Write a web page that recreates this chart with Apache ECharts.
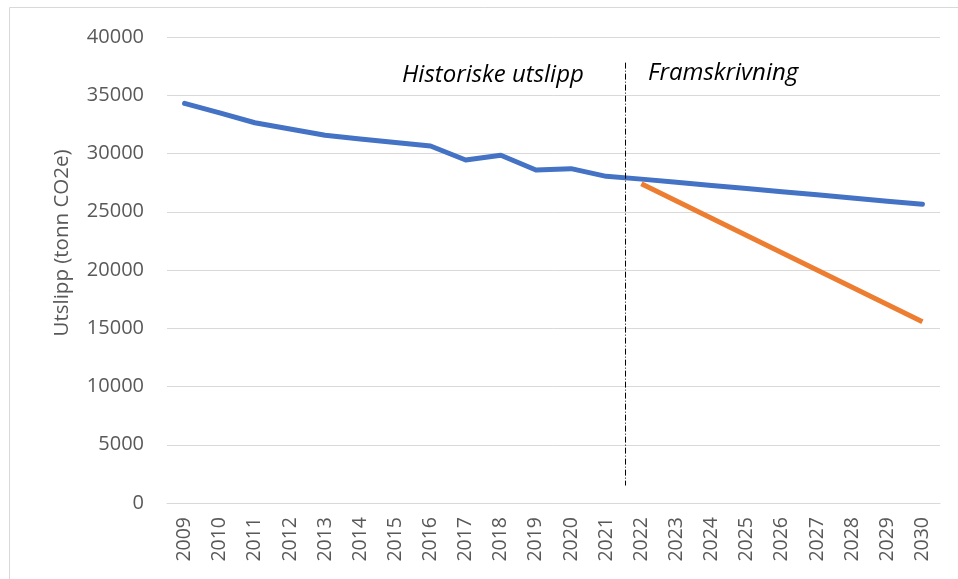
<!DOCTYPE html>
<html>
<head>
<meta charset="utf-8">
<script src="https://cdn.jsdelivr.net/npm/echarts@6/dist/echarts.min.js"></script>
<style>html,body{margin:0;padding:0;background:#fff;}#c{width:958px;height:579px;}</style>
</head>
<body>
<div id="c"></div>
<script>
const years = ['2009','2010','2011','2012','2013','2014','2015','2016','2017','2018','2019','2020','2021','2022','2023','2024','2025','2026','2027','2028','2029','2030'];
const historisk = [34300,33480,32640,32100,31560,31240,30940,30640,29440,29850,28580,28700,28040,27800,27530,27260,26990,26720,26450,26180,25910,25640];
const framskrivning = [null,null,null,null,null,null,null,null,null,null,null,null,null,27400,25920,24440,22960,21480,20000,18520,17040,15560];
const dividerX = [13.05, 13.05];
const dividerY = [37800, 1500];
const yTicks = [0,5000,10000,15000,20000,25000,30000,35000,40000];

const chart = echarts.init(document.getElementById('c'));
const font = '"Open Sans", "Liberation Sans", sans-serif';
chart.setOption({
  animation: false,
  backgroundColor: '#fff',
  grid: {left: 167, right: 18, top: 37, bottom: 76},
  xAxis: [{
    type: 'category', data: years, boundaryGap: true,
    axisLine: {show: true, lineStyle: {color: '#d9d9d9', width: 1}},
    axisTick: {show: false},
    axisLabel: {rotate: 90, fontSize: 19.5, color: '#595959', fontFamily: font, margin: 14, interval: 0}
  }, {
    type: 'value', min: 0, max: years.length, show: false
  }],
  yAxis: {
    type: 'value', min: yTicks[0], max: yTicks[yTicks.length-1], interval: 5000,
    axisLine: {show: false}, axisTick: {show: false},
    splitLine: {lineStyle: {color: '#d9d9d9', width: 1}},
    axisLabel: {fontSize: 20, color: '#595959', fontFamily: font, margin: 23, formatter: v => String(v)}
  },
  graphic: [
    {type: 'rect', shape: {x: 9.5, y: 7.5, width: 1000, height: 700}, style: {fill: 'none', stroke: '#d9d9d9', lineWidth: 1}, silent: true, z: -1},
    {type: 'text', x: 62, y: 243, rotation: Math.PI/2, style: {text: 'Utslipp (tonn CO2e)', fill: '#595959', font: '20.5px ' + font, textAlign: 'center', textVerticalAlign: 'middle'}},
    {type: 'text', x: 402, y: 75, style: {text: 'Historiske utslipp', fill: '#000', font: 'italic 24px ' + font, textAlign: 'left', textVerticalAlign: 'middle'}},
    {type: 'text', x: 648, y: 73, style: {text: 'Framskrivning', fill: '#000', font: 'italic 24px ' + font, textAlign: 'left', textVerticalAlign: 'middle'}}
  ],
  series: [
    {type: 'line', data: historisk, symbol: 'none', lineStyle: {color: '#4472C4', width: 5, cap: 'round', join: 'round'}, z: 3},
    {type: 'line', data: framskrivning, symbol: 'none', lineStyle: {color: '#ED7D31', width: 5}, z: 4},
    {type: 'line', xAxisIndex: 1, data: dividerX.map((x,i)=>[x, dividerY[i]]), symbol: 'none',
     lineStyle: {color: '#000', width: 1, type: [6,2,1,2]}, z: 5}
  ]
});
</script>
</body>
</html>
